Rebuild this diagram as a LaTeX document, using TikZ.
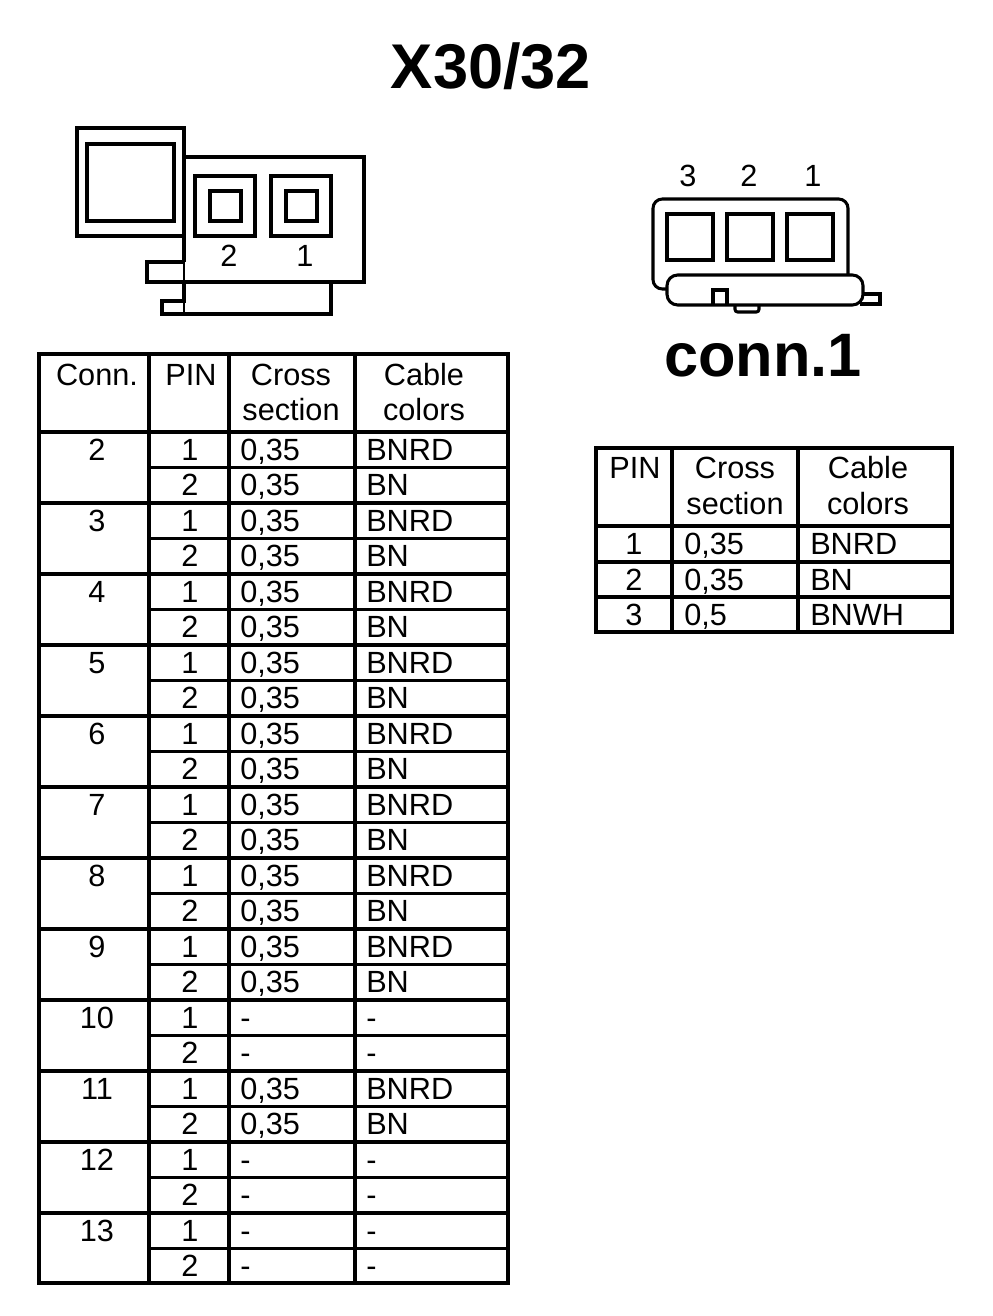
\documentclass[tikz,border=0pt]{standalone}
\usepackage{fontspec}
\setmainfont{Liberation Sans}
\begin{document}
\begin{tikzpicture}[
        x=0.75pt, y=-0.75pt,
        txt/.style={inner sep=0pt, anchor=base, yshift=0.75pt, font=\fontsize{23}{23}\selectfont},
        cell/.style={txt, anchor=base west},
        heading/.style={inner sep=0pt, font=\fontsize{47.4}{47}\selectfont\bfseries},
        thickline/.style={line width=3pt},
        rowline/.style={line width=2.3pt},
        thinline/.style={line width=0.8pt}
    ]
    \useasboundingbox (0,0) rectangle (992,1316);

    % Titles
    \node[heading] (title) at (491,66) {X30/32};
    \node[heading, font=\fontsize{46}{46}\selectfont\bfseries] (conn1) at (763,356) {conn.1};

    % Left connector
    \draw[thinline] (184,157) -- (184,314);
    \draw[thickline] (184,157) -- (364,157) -- (364,282) -- (147,282) -- (147,262) -- (184,262);
    \draw[thickline] (184,236) -- (184,262);
    \draw[thickline] (184,282) -- (184,301) -- (162,301) -- (162,314) -- (331,314) -- (331,282);
    \draw[thickline] (77,128) rectangle (184,236);
    \draw[rowline] (87,144) rectangle (174,221);
    \foreach \x/\n in {195/2,271/1} {
        \draw[thickline] (\x,176) rectangle (\x+60,236);
        \draw[rowline] (\x+15,191) rectangle (\x+46,221);
        \node[txt] (left\n) at (\x+34,268) {\n};
    }

    % Right connector
    \foreach \x/\n in {688/3,749/2,813/1}
        \node[txt] (right\n) at (\x,188) {\n};
    \draw[rowline, rounded corners=7pt] (848,274) -- (848,199) -- (653,199) -- (653,289) -- (667,289);
    \foreach \x in {667,727,787}
        \draw[rowline] (\x,214) rectangle (\x+46,260);
    \draw[rowline, rounded corners=8pt] (667,275) rectangle (863,305);
    \draw[rowline] (713,305) -- (713,290) -- (727,290) -- (727,305);
    \draw[rowline, rounded corners=2pt] (735,305) -- (735,312) -- (759,312) -- (759,305);
    \draw[rowline] (864,294) -- (880,294) -- (880,304) -- (860,304);

    % Big table: rows
    \foreach \k in {1,...,23}
        \draw[rowline] (149,432+35.5*\k) -- (508,432+35.5*\k);
    \foreach \k in {2,4,...,22}
        \draw[rowline] (39,432+35.5*\k) -- (149,432+35.5*\k);
    \draw[rowline] (39,432) -- (508,432);

    % Big table: columns and frame
    \foreach \x in {149,229,355}
        \draw[rowline, line width=2.6pt] (\x,354) -- (\x,1283);
    \draw[thickline] (39,354) rectangle (508,1283);

    % Big table: header
    \node[txt] (hconn) at (97,386) {Conn.};
    \node[txt] (hpin) at (191,386) {PIN};
    \node[txt] (hcross) at (291,386) {Cross};
    \node[txt] (hsection) at (291,421) {section};
    \node[txt] (hcable) at (424,386) {Cable};
    \node[txt] (hcolors) at (424,421) {colors};

    % Big table: contents
    \foreach \cn/\sa/\sb/\ca/\cb [count=\k from 0] in {
        2/{0,35}/{0,35}/BNRD/BN, 3/{0,35}/{0,35}/BNRD/BN, 4/{0,35}/{0,35}/BNRD/BN,
        5/{0,35}/{0,35}/BNRD/BN, 6/{0,35}/{0,35}/BNRD/BN, 7/{0,35}/{0,35}/BNRD/BN,
        8/{0,35}/{0,35}/BNRD/BN, 9/{0,35}/{0,35}/BNRD/BN, 10/-/-/-/-,
        11/{0,35}/{0,35}/BNRD/BN, 12/-/-/-/-, 13/-/-/-/-} {
        \node[txt] (conn\cn) at (97,461+71*\k) {\cn};
        \node[txt] (pin\cn a) at (190,461+71*\k) {1};
        \node[txt] (pin\cn b) at (190,496.5+71*\k) {2};
        \node[cell] (sec\cn a) at (240,461+71*\k) {\sa};
        \node[cell] (sec\cn b) at (240,496.5+71*\k) {\sb};
        \node[cell] (col\cn a) at (366,461+71*\k) {\ca};
        \node[cell] (col\cn b) at (366,496.5+71*\k) {\cb};
    }

    % Small table
    \foreach \y in {526,562,597}
        \draw[rowline] (596,\y) -- (952,\y);
    \foreach \x in {672,798}
        \draw[rowline, line width=2.6pt] (\x,448) -- (\x,632);
    \draw[thickline] (596,448) rectangle (952,632);
    \node[txt] (spin) at (635,479) {PIN};
    \node[txt] (scross) at (735,479) {Cross};
    \node[txt] (ssection) at (735,515) {section};
    \node[txt] (scable) at (868,479) {Cable};
    \node[txt] (scolors) at (868,515) {colors};
    \foreach \p/\y/\sa/\ca in {1/555/{0,35}/BNRD, 2/591/{0,35}/BN, 3/626/{0,5}/BNWH} {
        \node[txt] (sp\p) at (634,\y) {\p};
        \node[cell] (ss\p) at (684,\y) {\sa};
        \node[cell] (sc\p) at (810,\y) {\ca};
    }
\end{tikzpicture}
\end{document}
